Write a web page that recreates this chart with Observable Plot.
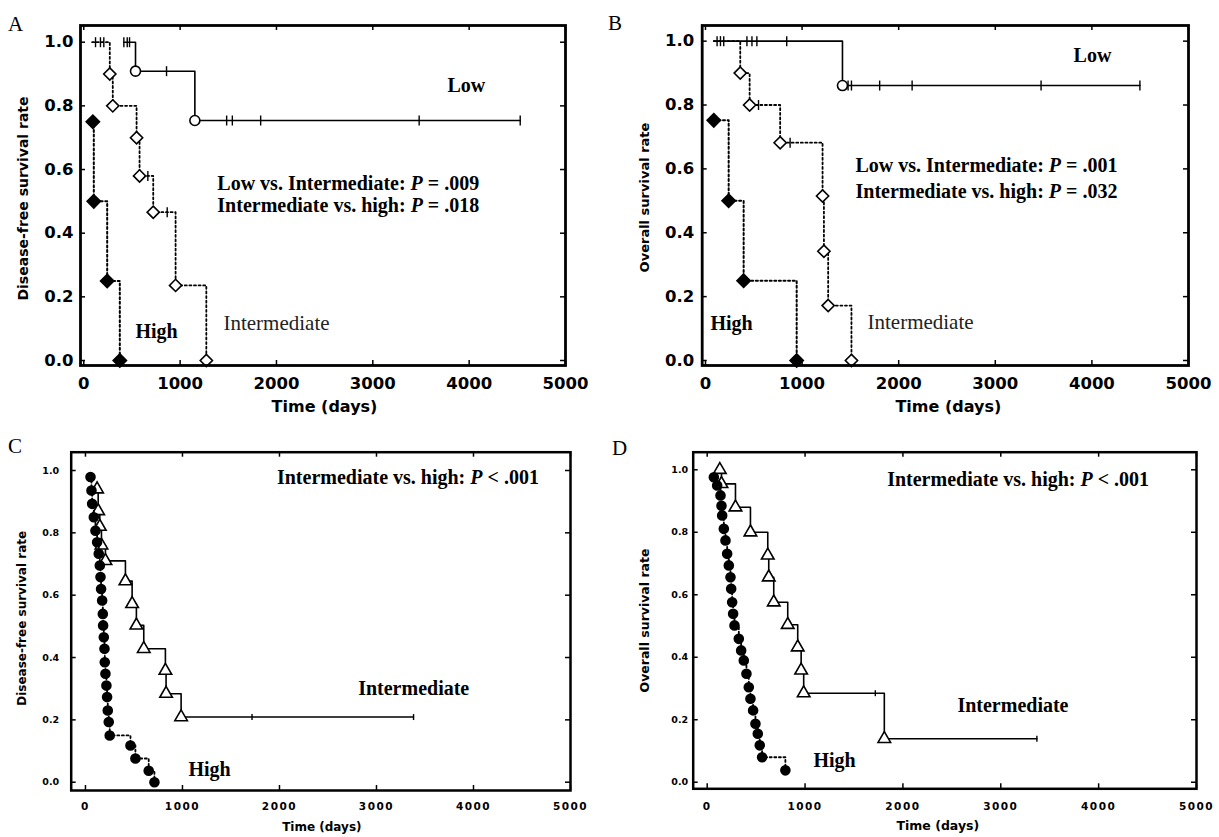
<!DOCTYPE html>
<html><head><meta charset="utf-8">
<script src="https://cdn.jsdelivr.net/npm/d3@7"></script>
<script src="https://cdn.jsdelivr.net/npm/@observablehq/plot@0.6"></script>
<style>
body{margin:0;background:#fff;}
#wrap{position:relative;width:1219px;height:837px;overflow:hidden;background:#fff;}
.letter{position:absolute;font-family:"Liberation Serif",serif;font-size:21px;line-height:1;color:#000;}
</style></head><body><div id="wrap"></div>
<script>
// ---------- axis ticks ----------
const xTicks = [0, 1000, 2000, 3000, 4000, 5000];
const yTicks = [0, 0.2, 0.4, 0.6, 0.8, 1.0];
const panelLetters = ["A", "B", "C", "D"];
const xTitle = "Time (days)";
const yTitleDFS = "Disease-free survival rate";
const yTitleOS = "Overall survival rate";

// ---------- Panel A: disease-free survival ----------
const aLowTime = [416, 537, 1153, 4530];
const aLowSurv = [1.0, 0.909, 0.754, 0.754];
const aLowCensor = [416, 451, 475, 859, 1483, 1542, 1836, 3481, 4530];
const aIntTime = [87, 270, 301, 548, 579, 721, 953, 1272];
const aIntSurv = [1.0, 0.9, 0.8, 0.7, 0.58, 0.466, 0.236, 0];
const aIntCensor = [122, 173, 208, 665, 866];
const aHighTime = [94, 104, 243, 374];
const aHighSurv = [0.75, 0.5, 0.25, 0];
const aLabels = ["Low", "Low vs. Intermediate: P = .009", "Intermediate vs. high: P = .018", "High", "Intermediate"];

// ---------- Panel B: overall survival ----------
const bLowTime = [86, 1418, 4497];
const bLowSurv = [1.0, 0.861, 0.861];
const bLowCensor = [189, 429, 481, 532, 841, 1476, 1511, 1803, 2139, 3474, 4497];
const bIntTime = [86, 360, 457, 773, 1212, 1226, 1270, 1511];
const bIntSurv = [1.0, 0.9, 0.8, 0.682, 0.515, 0.342, 0.172, 0];
const bIntCensor = [120, 155, 549, 876];
const bHighTime = [86, 240, 395, 944];
const bHighSurv = [0.752, 0.5, 0.25, 0];
const bLabels = ["Low", "Low vs. Intermediate: P = .001", "Intermediate vs. high: P = .032", "High", "Intermediate"];

// ---------- Panel C: disease-free survival ----------
const cIntTime = [120, 131, 148, 165, 206, 412, 481, 525, 601, 824, 831, 986, 3382];
const cIntSurv = [0.94, 0.87, 0.82, 0.76, 0.71, 0.645, 0.572, 0.503, 0.428, 0.358, 0.284, 0.209, 0.209];
const cIntCensor = [1717, 3382];
const cHighTime = [52, 62, 69, 86, 103, 120, 137, 148, 155, 161, 172, 179, 182, 189, 196, 199, 206, 216, 223, 230, 240, 250, 464, 515, 652, 711];
const cHighSurv = [0.979, 0.936, 0.893, 0.850, 0.807, 0.770, 0.733, 0.695, 0.658, 0.620, 0.583, 0.540, 0.503, 0.465, 0.428, 0.385, 0.348, 0.310, 0.273, 0.230, 0.193, 0.150, 0.118, 0.076, 0.037, 0];
const cLabels = ["Intermediate vs. high: P < .001", "Intermediate", "High"];

// ---------- Panel D: overall survival ----------
const dIntTime = [129, 146, 289, 442, 619, 629, 680, 823, 925, 960, 986, 1810, 3369];
const dIntSurv = [1.0, 0.955, 0.88, 0.80, 0.726, 0.656, 0.576, 0.504, 0.432, 0.358, 0.285, 0.139, 0.139];
const dIntCensor = [1718, 3369];
const dHighTime = [68, 102, 136, 146, 153, 170, 187, 204, 221, 238, 245, 255, 265, 279, 323, 347, 374, 401, 425, 442, 469, 493, 517, 537, 561, 799];
const dHighSurv = [0.976, 0.950, 0.918, 0.885, 0.854, 0.811, 0.774, 0.731, 0.694, 0.656, 0.619, 0.576, 0.539, 0.502, 0.459, 0.422, 0.390, 0.347, 0.304, 0.267, 0.230, 0.187, 0.155, 0.118, 0.080, 0.038];
const dLabels = ["Intermediate vs. high: P < .001", "Intermediate", "High"];

// ---------- helpers ----------
const vbar = {draw(ctx, size) { const h = Math.sqrt(size / Math.PI); ctx.moveTo(0, -h); ctx.lineTo(0, h); }};
function stepAt(time, surv, t) { let v = surv[0]; for (let i = 0; i < time.length; i++) if (time[i] <= t) v = surv[i]; return v; }

function seriesMarks(s) {
  const pts = s.time.map((t, i) => ({x: t, y: s.surv[i]}));
  const marks = [Plot.line(pts, {x: "x", y: "y", curve: "step-after", stroke: "#000", strokeWidth: s.lw, strokeDasharray: s.dash})];
  if (s.censor) {
    const cp = s.censor.map(t => ({x: t, y: stepAt(s.time, s.surv, t)}));
    marks.push(Plot.dot(cp, {x: "x", y: "y", symbol: vbar, r: s.cr || 5, stroke: "#000", strokeWidth: 1.4}));
  }
  const mk = pts.filter((p, i) => i === 0 ? s.markFirst : p.y < pts[i - 1].y);
  marks.push(Plot.dot(mk, {x: "x", y: "y", symbol: s.symbol, r: s.r, fill: s.fill, stroke: "#000", strokeWidth: 1.6}));
  return marks;
}

function makePanel(p) {
  const innerW = p.width - p.ml - p.mr, innerH = p.height - p.mt - p.mb;
  const tick = 5;
  const marks = [
    Plot.tickX(xTicks, {x: d => d, insetTop: innerH - tick, stroke: "#000", strokeWidth: 1.5}),
    Plot.tickX(xTicks, {x: d => d, insetBottom: innerH - tick, stroke: "#000", strokeWidth: 1.5}),
    Plot.tickY(yTicks, {y: d => d, insetRight: innerW - tick, stroke: "#000", strokeWidth: 1.5}),
    Plot.tickY(yTicks, {y: d => d, insetLeft: innerW - tick, stroke: "#000", strokeWidth: 1.5}),
    Plot.axisX({ticks: xTicks, tickSize: 0, tickPadding: p.xPad, tickFormat: d3.format("d"), fontSize: p.tickFont, fontWeight: "bold", fontFamily: "DejaVu Sans", fill: "#000", label: null}),
    Plot.axisY({ticks: yTicks, tickSize: 0, tickPadding: p.yPad, tickFormat: d => d.toFixed(1), fontSize: p.yTickFont || p.tickFont, fontWeight: "bold", fontFamily: "DejaVu Sans", fill: "#000", label: null}),
    Plot.text([xTitle], {text: d => d, frameAnchor: "bottom", textAnchor: "middle", lineAnchor: "middle", dx: p.xtDx, dy: p.xtDy, fontSize: p.xtFont, fontWeight: "bold", fontFamily: "DejaVu Sans", fill: "#000"}),
    Plot.text([p.yTitle], {text: d => d, frameAnchor: "left", textAnchor: "middle", lineAnchor: "middle", rotate: -90, dx: p.ytDx, dy: p.ytDy, fontSize: p.ytFont, fontWeight: "bold", fontFamily: "DejaVu Sans", fill: "#000"}),
  ];
  for (const s of p.series) marks.push(...seriesMarks(s));
  for (const a of p.annos) {
    marks.push(Plot.text([a], {x: "x", y: "y", text: "t", textAnchor: "start", lineAnchor: "bottom", fontSize: a.size || 20, fontWeight: a.weight || "bold", fontFamily: "Liberation Serif", fill: a.fill || "#000"}));
  }
  marks.push(Plot.frame({stroke: "#000", strokeWidth: p.frameW}));
  const svg = Plot.plot({
    width: p.width, height: p.height,
    marginLeft: p.ml, marginRight: p.mr, marginTop: p.mt, marginBottom: p.mb,
    x: {domain: p.xDomain},
    y: {domain: p.yDomain},
    style: {background: "transparent", overflow: "visible"},
    marks
  });
  svg.style.position = "absolute";
  svg.style.left = p.left + "px";
  svg.style.top = p.top + "px";
  // italic P in statistics lines
  d3.select(svg).selectAll("text").each(function() {
    const m = this.textContent.match(/^(.*?: )P( [=<].*)$/);
    if (m && this.childElementCount === 0) {
      const el = d3.select(this); el.text(null);
      el.append("tspan").text(m[1]);
      el.append("tspan").attr("font-style", "italic").text("P");
      el.append("tspan").text(m[2]);
    }
  });
  if (p.xLetterSpacing) d3.select(svg).selectAll('g[aria-label="x-axis tick label"] text').style("letter-spacing", p.xLetterSpacing);
  return svg;
}

const wrap = document.getElementById("wrap");

const panels = [
  { // A
    left: 0, top: 0, width: 600, height: 420, ml: 80, mr: 35, mt: 25, mb: 55,
    xDomain: [-34, 5000], yDomain: [-0.0157, 1.0525], frameW: 2.8,
    tickFont: 16.5, xPad: 12, yPad: 7, xtFont: 16, xtDx: 1.5, xtDy: 41,
    yTitle: yTitleDFS, ytFont: 14, ytDx: -57, ytDy: 3,
    series: [
      {time: aLowTime, surv: aLowSurv, censor: aLowCensor, lw: 1.6, dash: null, symbol: "circle", r: 5, fill: "#fff", markFirst: false},
      {time: aIntTime, surv: aIntSurv, censor: aIntCensor, lw: 1.8, dash: "2,2.6", symbol: "diamond2", r: 5.5, fill: "#fff", markFirst: false},
      {time: aHighTime, surv: aHighSurv, lw: 2, dash: "2,2.6", symbol: "diamond2", r: 6, fill: "#000", markFirst: true}
    ],
    annos: [
      {t: aLabels[0], x: 3775, y: 0.845},
      {t: aLabels[1], x: 1386, y: 0.537},
      {t: aLabels[2], x: 1386, y: 0.465},
      {t: aLabels[3], x: 536, y: 0.072},
      {t: aLabels[4], x: 1450, y: 0.097, weight: "normal", size: 21, fill: "#222"}
    ]
  },
  { // B
    left: 600, top: 0, width: 619, height: 420, ml: 101.7, mr: 31, mt: 25, mb: 55,
    xDomain: [-34, 5000], yDomain: [-0.0157, 1.049], frameW: 2.8,
    tickFont: 16.5, xPad: 12, yPad: 8, xtFont: 16, xtDx: 3, xtDy: 41,
    yTitle: yTitleOS, ytFont: 13, ytDx: -57, ytDy: 2,
    series: [
      {time: bLowTime, surv: bLowSurv, censor: bLowCensor, lw: 1.6, dash: null, symbol: "circle", r: 5, fill: "#fff", markFirst: false},
      {time: bIntTime, surv: bIntSurv, censor: bIntCensor, lw: 1.8, dash: "2,2.6", symbol: "diamond2", r: 5.5, fill: "#fff", markFirst: false},
      {time: bHighTime, surv: bHighSurv, lw: 2, dash: "2,2.6", symbol: "diamond2", r: 6, fill: "#000", markFirst: true}
    ],
    annos: [
      {t: bLabels[0], x: 3810, y: 0.936},
      {t: bLabels[1], x: 1553, y: 0.589},
      {t: bLabels[2], x: 1553, y: 0.510},
      {t: bLabels[3], x: 52, y: 0.094},
      {t: bLabels[4], x: 1677, y: 0.100, weight: "normal", size: 21, fill: "#222"}
    ]
  },
  { // C
    left: 0, top: 420, width: 600, height: 417, ml: 70.7, mr: 30, mt: 31.7, mb: 47,
    xDomain: [-147, 5000], yDomain: [-0.0266, 1.0587], frameW: 2.5,
    tickFont: 10.5, yTickFont: 9.5, xPad: 12, yPad: 12, xtFont: 12, xtDx: 1, xtDy: 37,
    xLetterSpacing: "1.5px",
    yTitle: yTitleDFS, ytFont: 12, ytDx: -49, ytDy: -3,
    series: [
      {time: cIntTime, surv: cIntSurv, censor: cIntCensor, cr: 3, lw: 1.6, dash: null, symbol: "triangle2", r: 6, fill: "#fff", markFirst: true},
      {time: cHighTime, surv: cHighSurv, lw: 1.8, dash: "2,2.6", symbol: "circle", r: 4.5, fill: "#000", markFirst: true}
    ],
    annos: [
      {t: cLabels[0], x: 1974, y: 0.958},
      {t: cLabels[1], x: 2811, y: 0.281},
      {t: cLabels[2], x: 1061, y: 0.021}
    ]
  },
  { // D
    left: 600, top: 420, width: 619, height: 417, ml: 92.7, mr: 23, mt: 31.7, mb: 48.7,
    xDomain: [-143, 5000], yDomain: [-0.021, 1.0563], frameW: 2.5,
    tickFont: 10.5, yTickFont: 9.5, xPad: 14, yPad: 5, xtFont: 12.5, xtDx: -7, xtDy: 37.5,
    xLetterSpacing: "1.5px",
    yTitle: yTitleOS, ytFont: 12.5, ytDx: -48, ytDy: 0,
    series: [
      {time: dIntTime, surv: dIntSurv, censor: dIntCensor, cr: 3, lw: 1.6, dash: null, symbol: "triangle2", r: 6, fill: "#fff", markFirst: true},
      {time: dHighTime, surv: dHighSurv, lw: 1.8, dash: "2,2.6", symbol: "circle", r: 4.5, fill: "#000", markFirst: true}
    ],
    annos: [
      {t: dLabels[0], x: 1839, y: 0.947},
      {t: dLabels[1], x: 2557, y: 0.226},
      {t: dLabels[2], x: 1086, y: 0.050}
    ]
  }
];

for (const p of panels) wrap.appendChild(makePanel(p));

const letterPos = [[8, 14], [608, 13], [8, 436], [612, 438]];
panelLetters.forEach((L, i) => {
  const div = document.createElement("div");
  div.className = "letter";
  div.textContent = L;
  div.style.left = letterPos[i][0] + "px";
  div.style.top = letterPos[i][1] + "px";
  wrap.appendChild(div);
});
</script></body></html>
